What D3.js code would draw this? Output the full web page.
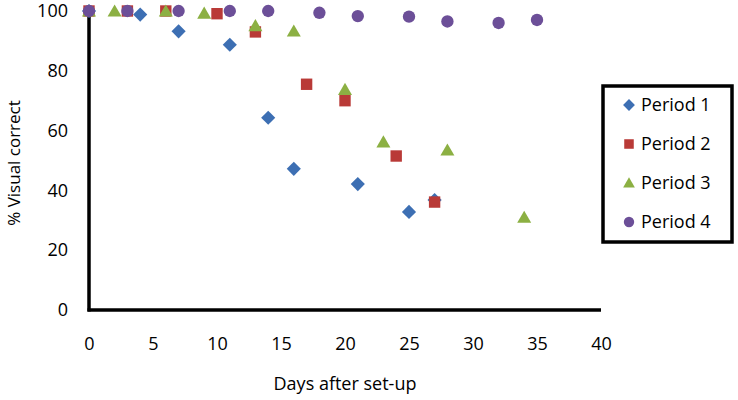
<!DOCTYPE html>
<html>
<head>
<meta charset="utf-8">
<script src="https://cdnjs.cloudflare.com/ajax/libs/d3/7.8.5/d3.min.js"></script>
<style>
  body { margin: 0; background: #fff; }
  text { font-family: "Open Sans", "Liberation Sans", sans-serif; fill: #000; }
</style>
</head>
<body>
<div id="chart"></div>
<script>
// values
var p1Days = [0, 4, 7, 11, 14, 16, 21, 25, 27];
var p1Vals = [100, 98.8, 93.2, 88.7, 64.3, 47.2, 42.1, 32.8, 36.8];
var p2Days = [0, 3, 6, 10, 13, 17, 20, 24, 27];
var p2Vals = [100, 100, 100, 99.1, 93, 75.5, 70, 51.5, 36.1];
var p3Days = [0, 2, 6, 9, 13, 16, 20, 23, 28, 34];
var p3Vals = [100, 100, 100, 99.3, 95.1, 93.3, 73.8, 56.2, 53.5, 31];
var p4Days = [0, 3, 7, 11, 14, 18, 21, 25, 28, 32, 35];
var p4Vals = [100, 100, 100, 100, 100, 99.4, 98.3, 98.1, 96.5, 96, 97];
var seriesNames = ["Period 1", "Period 2", "Period 3", "Period 4"];
var xTicks = [0, 5, 10, 15, 20, 25, 30, 35, 40];
var yTicks = [0, 20, 40, 60, 80, 100];

var colors = ["#3d6fb3", "#b93a37", "#8cb043", "#6c4f98"];
// diamond = square turned 45 degrees
var shapes = [d3.symbolSquare, d3.symbolSquare, d3.symbolTriangle, d3.symbolCircle];
var turns = [45, 0, 0, 0];
var sizes = [100, 130, 85, 120];

var series = [
  {days: p1Days, vals: p1Vals},
  {days: p2Days, vals: p2Vals},
  {days: p3Days, vals: p3Vals},
  {days: p4Days, vals: p4Vals}
];

var width = 738, height = 400;
var svg = d3.select("#chart").append("svg")
  .attr("width", width).attr("height", height);

var x = d3.scaleLinear().domain([0, 40]).range([89, 601]);
var y = d3.scaleLinear().domain([0, 100]).range([310, 11]);

// axes (no tick marks, thick black lines)
var xAxis = svg.append("g").attr("transform", "translate(0,310)")
  .call(d3.axisBottom(x).tickValues(xTicks).tickSize(0).tickPadding(27));
var yAxis = svg.append("g").attr("transform", "translate(89,0)")
  .call(d3.axisLeft(y).tickValues(yTicks).tickSize(0).tickPadding(21));
[xAxis, yAxis].forEach(function(a) {
  a.select(".domain").attr("stroke", "#000").attr("stroke-width", 3.5);
  a.selectAll("text").style("font-size", "18px").attr("fill", "#000");
});
xAxis.select(".domain").attr("d", "M" + (x(0) - 1.5) + ",0H" + x(40));
yAxis.select(".domain").attr("d", "M0," + y(100) + "V" + (y(0) + 1.5));

svg.append("text")
  .attr("x", 345).attr("y", 390)
  .attr("text-anchor", "middle")
  .style("font-size", "18px")
  .text("Days after set-up");

svg.append("text")
  .attr("transform", "translate(20,163) rotate(-90)")
  .attr("text-anchor", "middle")
  .style("font-size", "17px")
  .text("% Visual correct");

// points, drawn in series order
series.forEach(function(s, i) {
  var pts = s.days.map(function(d, k) { return {d: d, v: s.vals[k]}; });
  svg.append("g").selectAll("path")
    .data(pts)
    .enter().append("path")
    .attr("d", d3.symbol().type(shapes[i]).size(sizes[i]))
    .attr("transform", function(p) {
      var dy = i == 2 ? 1.5 : 0;
      return "translate(" + x(p.d) + "," + (y(p.v) + dy) + ") rotate(" + turns[i] + ")";
    })
    .attr("fill", colors[i]);
});

// legend
var legend = svg.append("g");
legend.append("rect")
  .attr("x", 603).attr("y", 86)
  .attr("width", 129).attr("height", 156)
  .attr("fill", "#fff").attr("stroke", "#000").attr("stroke-width", 3.5);

seriesNames.forEach(function(name, i) {
  var ly = 105 + i * 39;
  legend.append("path")
    .attr("d", d3.symbol().type(shapes[i]).size(sizes[i] * 0.7))
    .attr("transform", "translate(629," + (ly + (i == 2 ? 1 : 0)) + ") rotate(" + turns[i] + ")")
    .attr("fill", colors[i]);
  legend.append("text")
    .attr("x", 641).attr("y", ly + 6)
    .style("font-size", "18px")
    .text(name);
});
</script>
</body>
</html>
